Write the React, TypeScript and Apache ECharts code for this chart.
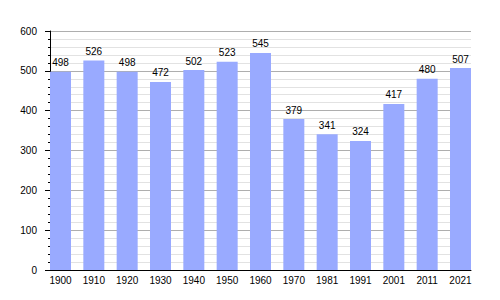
import React, { useEffect, useRef } from "react";
import * as echarts from "echarts";

const years = ["1900", "1910", "1920", "1930", "1940", "1950", "1960", "1970", "1981", "1991", "2001", "2011", "2021"];
const population = [498, 526, 498, 472, 502, 523, 545, 379, 341, 324, 417, 480, 507];
const yMin = 0;
const yMax = 600;

export default function App() {
  const ref = useRef<HTMLDivElement>(null);
  useEffect(() => {
    const chart = echarts.init(ref.current!, null, { renderer: "svg" });
    const font = "Liberation Sans, Arial, sans-serif";
    const left = 50;
    const right = 29;
    const plotW = 500 - left - right;
    const step = plotW / (years.length - 1 + 21 / 33.33);
    const barW = 21;
    const pad = (step - barW) / 2;
    chart.setOption({
      animation: false,
      grid: [
        { left: left, right: right, top: 31, bottom: 30 },
        { left: left - pad, right: right - pad, top: 31, bottom: 30 },
      ],
      xAxis: [
        {
          gridIndex: 0,
          type: "value",
          min: 0,
          max: 1,
          axisLine: { show: true, onZero: false, lineStyle: { color: "#000", width: 1 } },
          axisTick: { show: false },
          axisLabel: { show: false },
          splitLine: { show: false },
        },
        {
          gridIndex: 1,
          type: "category",
          data: years,
          axisLine: { show: false },
          axisTick: { show: false },
          axisLabel: { color: "#000", fontSize: 10, fontFamily: font, margin: 5 },
        },
      ],
      yAxis: [
        {
          gridIndex: 0,
          type: "value",
          min: yMin,
          max: yMax,
          interval: 100,
          axisLine: { show: true, lineStyle: { color: "#000", width: 1 } },
          axisTick: { show: true, length: 5, lineStyle: { color: "#000" } },
          minorTick: { show: true, splitNumber: 5, length: 2, lineStyle: { color: "#000" } },
          axisLabel: { color: "#000", fontSize: 10, fontFamily: font, margin: 13 },
          splitLine: { show: true, lineStyle: { color: "#aeaeae", width: 1 } },
          minorSplitLine: { show: true, lineStyle: { color: "#e2e2e2", width: 1 } },
        },
        {
          gridIndex: 1,
          type: "value",
          min: yMin,
          max: yMax,
          show: false,
          splitLine: { show: false },
        },
      ],
      series: [
        {
          type: "bar",
          xAxisIndex: 1,
          yAxisIndex: 1,
          data: population,
          barWidth: barW,
          itemStyle: { color: "#99aaff" },
          label: {
            show: true,
            position: "top",
            distance: 4,
            color: "#000",
            fontSize: 10,
            fontFamily: font,
          },
        },
      ],
    });
    return () => chart.dispose();
  }, []);
  return <div ref={ref} style={{ width: 500, height: 300, margin: -8 }} />;
}
